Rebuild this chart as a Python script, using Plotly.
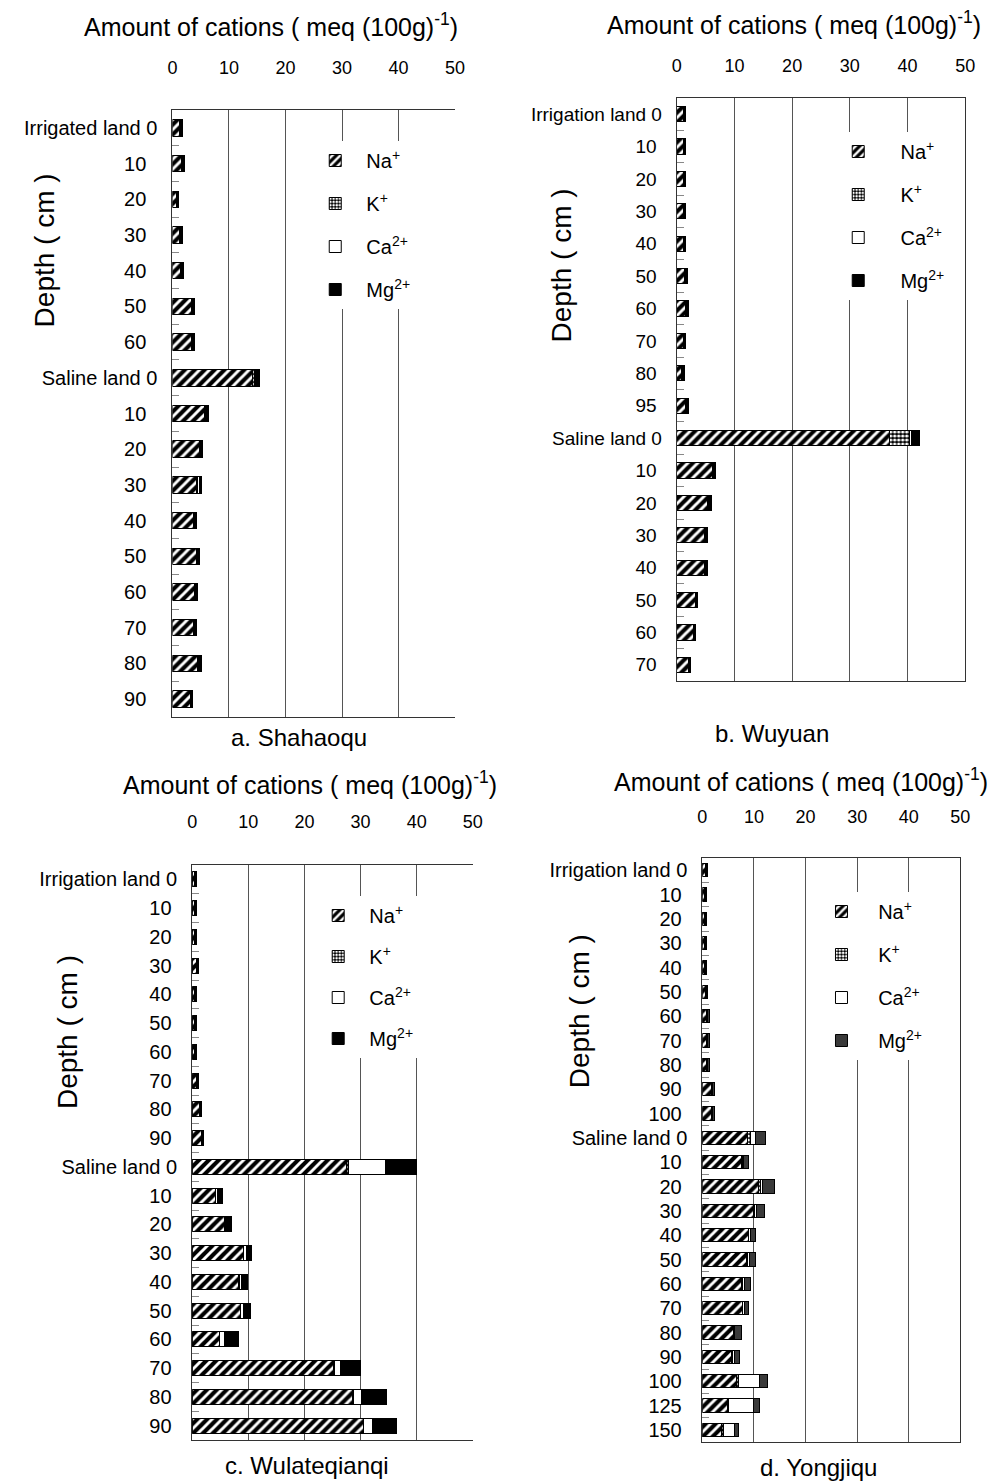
import plotly.graph_objects as go

W, H = 994, 1483
FONT = "Liberation Sans, Arial, sans-serif"

# ---- data: exchangeable cations, meq (100g)^-1, by soil depth ----
labels_a = ["Irrigated land 0", "10", "20", "30", "40", "50", "60",
            "Saline land 0", "10", "20", "30", "40", "50", "60", "70", "80", "90"]
na_a = [1.3, 1.6, 0.7, 1.3, 1.5, 3.3, 3.3, 14.2, 5.6, 4.8, 4.3, 3.7, 4.2, 3.9, 3.7, 4.5, 3.2]
k_a = [0.1, 0.1, 0.05, 0.1, 0.1, 0.1, 0.1, 0.3, 0.1, 0.1, 0.1, 0.1, 0.1, 0.1, 0.1, 0.1, 0.1]
ca_a = [0.1, 0.1, 0.1, 0.1, 0.1, 0.1, 0.1, 0.2, 0.2, 0.1, 0.3, 0.1, 0.1, 0.1, 0.1, 0.1, 0.1]
mg_a = [0.3, 0.3, 0.2, 0.3, 0.3, 0.4, 0.4, 0.7, 0.4, 0.4, 0.4, 0.3, 0.4, 0.3, 0.3, 0.4, 0.2]

labels_b = ["Irrigation land 0", "10", "20", "30", "40", "50", "60", "70", "80", "95",
            "Saline land 0", "10", "20", "30", "40", "50", "60", "70"]
na_b = [1.1, 1.1, 1.1, 1.1, 1.1, 1.4, 1.6, 1.1, 0.8, 1.6, 36.9, 6.2, 5.4, 4.8, 4.8, 3.2, 2.9, 2.0]
k_b = [0.1, 0.1, 0.1, 0.1, 0.1, 0.1, 0.1, 0.1, 0.1, 0.1, 3.4, 0.1, 0.1, 0.1, 0.1, 0.1, 0.1, 0.1]
ca_b = [0.1, 0.1, 0.1, 0.1, 0.1, 0.1, 0.1, 0.1, 0.1, 0.1, 0.3, 0.1, 0.1, 0.1, 0.1, 0.1, 0.1, 0.1]
mg_b = [0.3, 0.3, 0.3, 0.3, 0.3, 0.3, 0.3, 0.3, 0.3, 0.3, 1.4, 0.4, 0.4, 0.3, 0.3, 0.2, 0.2, 0.2]

labels_c = ["Irrigation land 0", "10", "20", "30", "40", "50", "60", "70", "80", "90",
            "Saline land 0", "10", "20", "30", "40", "50", "60", "70", "80", "90"]
na_c = [0.5, 0.5, 0.5, 0.7, 0.5, 0.5, 0.5, 0.7, 1.3, 1.6,
        27.5, 4.1, 5.8, 9.1, 8.3, 8.6, 4.8, 25.2, 28.6, 30.5]
k_c = [0.05, 0.05, 0.05, 0.05, 0.05, 0.05, 0.05, 0.05, 0.05, 0.05,
       0.3, 0.1, 0.1, 0.1, 0.1, 0.1, 0.1, 0.1, 0.1, 0.1]
ca_c = [0.05, 0.05, 0.05, 0.05, 0.05, 0.05, 0.05, 0.05, 0.05, 0.05,
        6.7, 0.3, 0.3, 0.4, 0.4, 0.4, 0.9, 1.2, 1.5, 1.6]
mg_c = [0.2, 0.2, 0.2, 0.25, 0.2, 0.2, 0.2, 0.25, 0.35, 0.35,
        5.4, 0.9, 0.8, 1.0, 1.0, 1.3, 2.4, 3.5, 4.4, 4.2]

labels_d = ["Irrigation land 0", "10", "20", "30", "40", "50", "60", "70", "80", "90", "100",
            "Saline land 0", "10", "20", "30", "40", "50", "60", "70", "80", "90", "100", "125", "150"]
na_d = [0.7, 0.5, 0.5, 0.5, 0.5, 0.7, 0.9, 0.9, 0.9, 1.8, 1.8,
        8.8, 7.6, 10.9, 9.9, 8.9, 8.6, 7.6, 7.7, 6.05, 5.7, 6.7, 4.8, 3.8]
k_d = [0.05, 0.05, 0.05, 0.05, 0.05, 0.05, 0.05, 0.05, 0.05, 0.05, 0.05,
       0.5, 0.1, 0.4, 0.3, 0.1, 0.2, 0.1, 0.1, 0.05, 0.1, 0.3, 0.3, 0.3]
ca_d = [0.05, 0.05, 0.05, 0.05, 0.05, 0.05, 0.05, 0.05, 0.05, 0.05, 0.05,
        1.0, 0.3, 0.4, 0.3, 0.3, 0.3, 0.4, 0.3, 0.1, 0.4, 4.0, 4.8, 2.2]
mg_d = [0.3, 0.2, 0.2, 0.2, 0.2, 0.3, 0.35, 0.35, 0.35, 0.5, 0.5,
        1.9, 1.0, 2.2, 1.5, 1.0, 1.25, 1.2, 0.9, 1.4, 1.1, 1.7, 1.1, 0.7]

ion_names = ["Na<sup>+</sup>", "K<sup>+</sup>", "Ca<sup>2+</sup>", "Mg<sup>2+</sup>"]
x_ticks = [0, 10, 20, 30, 40, 50]
axis_title = "Amount of cations ( meq (100g)<sup>-1</sup>)"
captions = ["a. Shahaoqu", "b. Wuyuan", "c. Wulateqianqi", "d. Yongjiqu"]


def px(x):
    return x / W


def py(y):
    return 1 - y / H


# panel geometry in pixels: plot box (left, top, right, bottom)
panels = [
    dict(labels=labels_a, ions=[na_a, k_a, ca_a, mg_a], box=(170, 110, 457, 717), bar=0.46,
         pad=2, right_line=False, mg="black", standoff=28, legend=(315, 141), lpad=2, gap=14,
         title=(270, 25), depth=(40, 250), caption=(298, 738), fs=20),
    dict(labels=labels_b, ions=[na_b, k_b, ca_b, mg_b], box=(682, 98, 975, 681), bar=0.47,
         pad=1, right_line=True, mg="black", standoff=18, legend=(846, 132), lpad=4, gap=14,
         title=(801, 23), depth=(565, 265), caption=(779, 733), fs=19),
    dict(labels=labels_c, ions=[na_c, k_c, ca_c, mg_c], box=(190, 865, 475, 1440), bar=0.53,
         pad=1, right_line=False, mg="black", standoff=29, legend=(318, 896), lpad=2, gap=12,
         title=(310, 783), depth=(63, 1032), caption=(307, 1465), fs=20),
    dict(labels=labels_d, ions=[na_d, k_d, ca_d, mg_d], box=(708, 858, 970, 1442), bar=0.55,
         pad=1, right_line=True, mg="#3a3a3a", standoff=27, legend=(829, 892), lpad=3, gap=14,
         title=(808, 780), depth=(583, 1011), caption=(826, 1467), fs=20),
]


def ion_marker(idx, mg_color):
    if idx == 0:  # Na+: white diagonal hatching on black
        return dict(color="black", line=dict(color="black", width=1),
                    pattern=dict(shape="/", fgcolor="white", bgcolor="black",
                                 size=7, solidity=0.42, fillmode="replace"))
    if idx == 1:  # K+: white dots on black
        return dict(color="black", line=dict(color="black", width=1),
                    pattern=dict(shape=".", fgcolor="white", bgcolor="black",
                                 size=4, solidity=0.5, fillmode="replace"))
    if idx == 2:  # Ca2+: open bar
        return dict(color="white", line=dict(color="black", width=1))
    return dict(color=mg_color, line=dict(color="black", width=1))


fig = go.Figure()
layout = dict(width=W, height=H, margin=dict(l=0, r=0, t=0, b=0),
              paper_bgcolor="white", plot_bgcolor="white", barmode="stack",
              showlegend=True, font=dict(family=FONT, color="black"))
annotations = []

for p_i, p in enumerate(panels):
    n = len(p["labels"])
    sfx = "" if p_i == 0 else str(p_i + 1)
    ypos = list(range(n))
    leg_name = "legend" + sfx
    for i_i, vals in enumerate(p["ions"]):
        fig.add_trace(go.Bar(
            x=vals, y=ypos, orientation="h", width=p["bar"],
            name="\u00a0" * p["lpad"] + ion_names[i_i],
            marker=ion_marker(i_i, p["mg"]),
            xaxis="x" + sfx, yaxis="y" + sfx,
            legend=leg_name, legendgroup=f"{p_i}-{i_i}",
        ))

    left, top, right, bottom = p["box"]
    ticktext = [lab if "land" in lab else lab + "\u00a0" * p["pad"] for lab in p["labels"]]
    layout["xaxis" + sfx] = dict(
        domain=[px(left), px(right)], anchor="y" + sfx, side="top",
        range=[0, 50], tickvals=x_ticks, ticks="", showgrid=False, zeroline=False,
        ticklabelstandoff=p["standoff"], tickfont=dict(size=18, family=FONT),
        showline=True, mirror=True, linecolor="#333", linewidth=1,
        minor=dict(tickvals=[10, 20, 30, 40], showgrid=True, gridcolor="#555",
                   gridwidth=1, ticks=""),
    )
    layout["yaxis" + sfx] = dict(
        domain=[py(bottom), py(top)], anchor="x" + sfx,
        range=[n - 0.5, -0.5], tickvals=ypos, ticktext=ticktext, ticks="",
        showgrid=False, zeroline=False, ticklabelstandoff=10,
        tickfont=dict(size=p["fs"], family=FONT),
        showline=True, mirror=p["right_line"], linecolor="#333", linewidth=1,
        minor=dict(tickvals=[k + 0.5 for k in range(n - 1)], ticks="inside",
                   ticklen=7, tickcolor="#888", tickwidth=1, showgrid=False),
    )
    lx, ly = p["legend"]
    layout[leg_name] = dict(
        x=px(lx), y=py(ly), xanchor="left", yanchor="top", bgcolor="white",
        font=dict(size=20, family=FONT), tracegroupgap=p["gap"], itemwidth=30,
        borderwidth=0,
    )

    tx, ty = p["title"]
    annotations.append(dict(text=axis_title, x=px(tx), y=py(ty), xref="paper", yref="paper",
                            showarrow=False, font=dict(size=25, family=FONT),
                            xanchor="center", yanchor="middle"))
    dx, dy = p["depth"]
    annotations.append(dict(text="Depth ( cm )", x=px(dx), y=py(dy), xref="paper", yref="paper",
                            showarrow=False, textangle=-90, font=dict(size=28, family=FONT),
                            xanchor="center", yanchor="middle"))
    cx, cy = p["caption"]
    annotations.append(dict(text=captions[p_i], x=px(cx), y=py(cy), xref="paper", yref="paper",
                            showarrow=False, font=dict(size=24, family=FONT),
                            xanchor="center", yanchor="middle"))

layout["annotations"] = annotations
fig.update_layout(**layout)
fig.write_html("out.html")
